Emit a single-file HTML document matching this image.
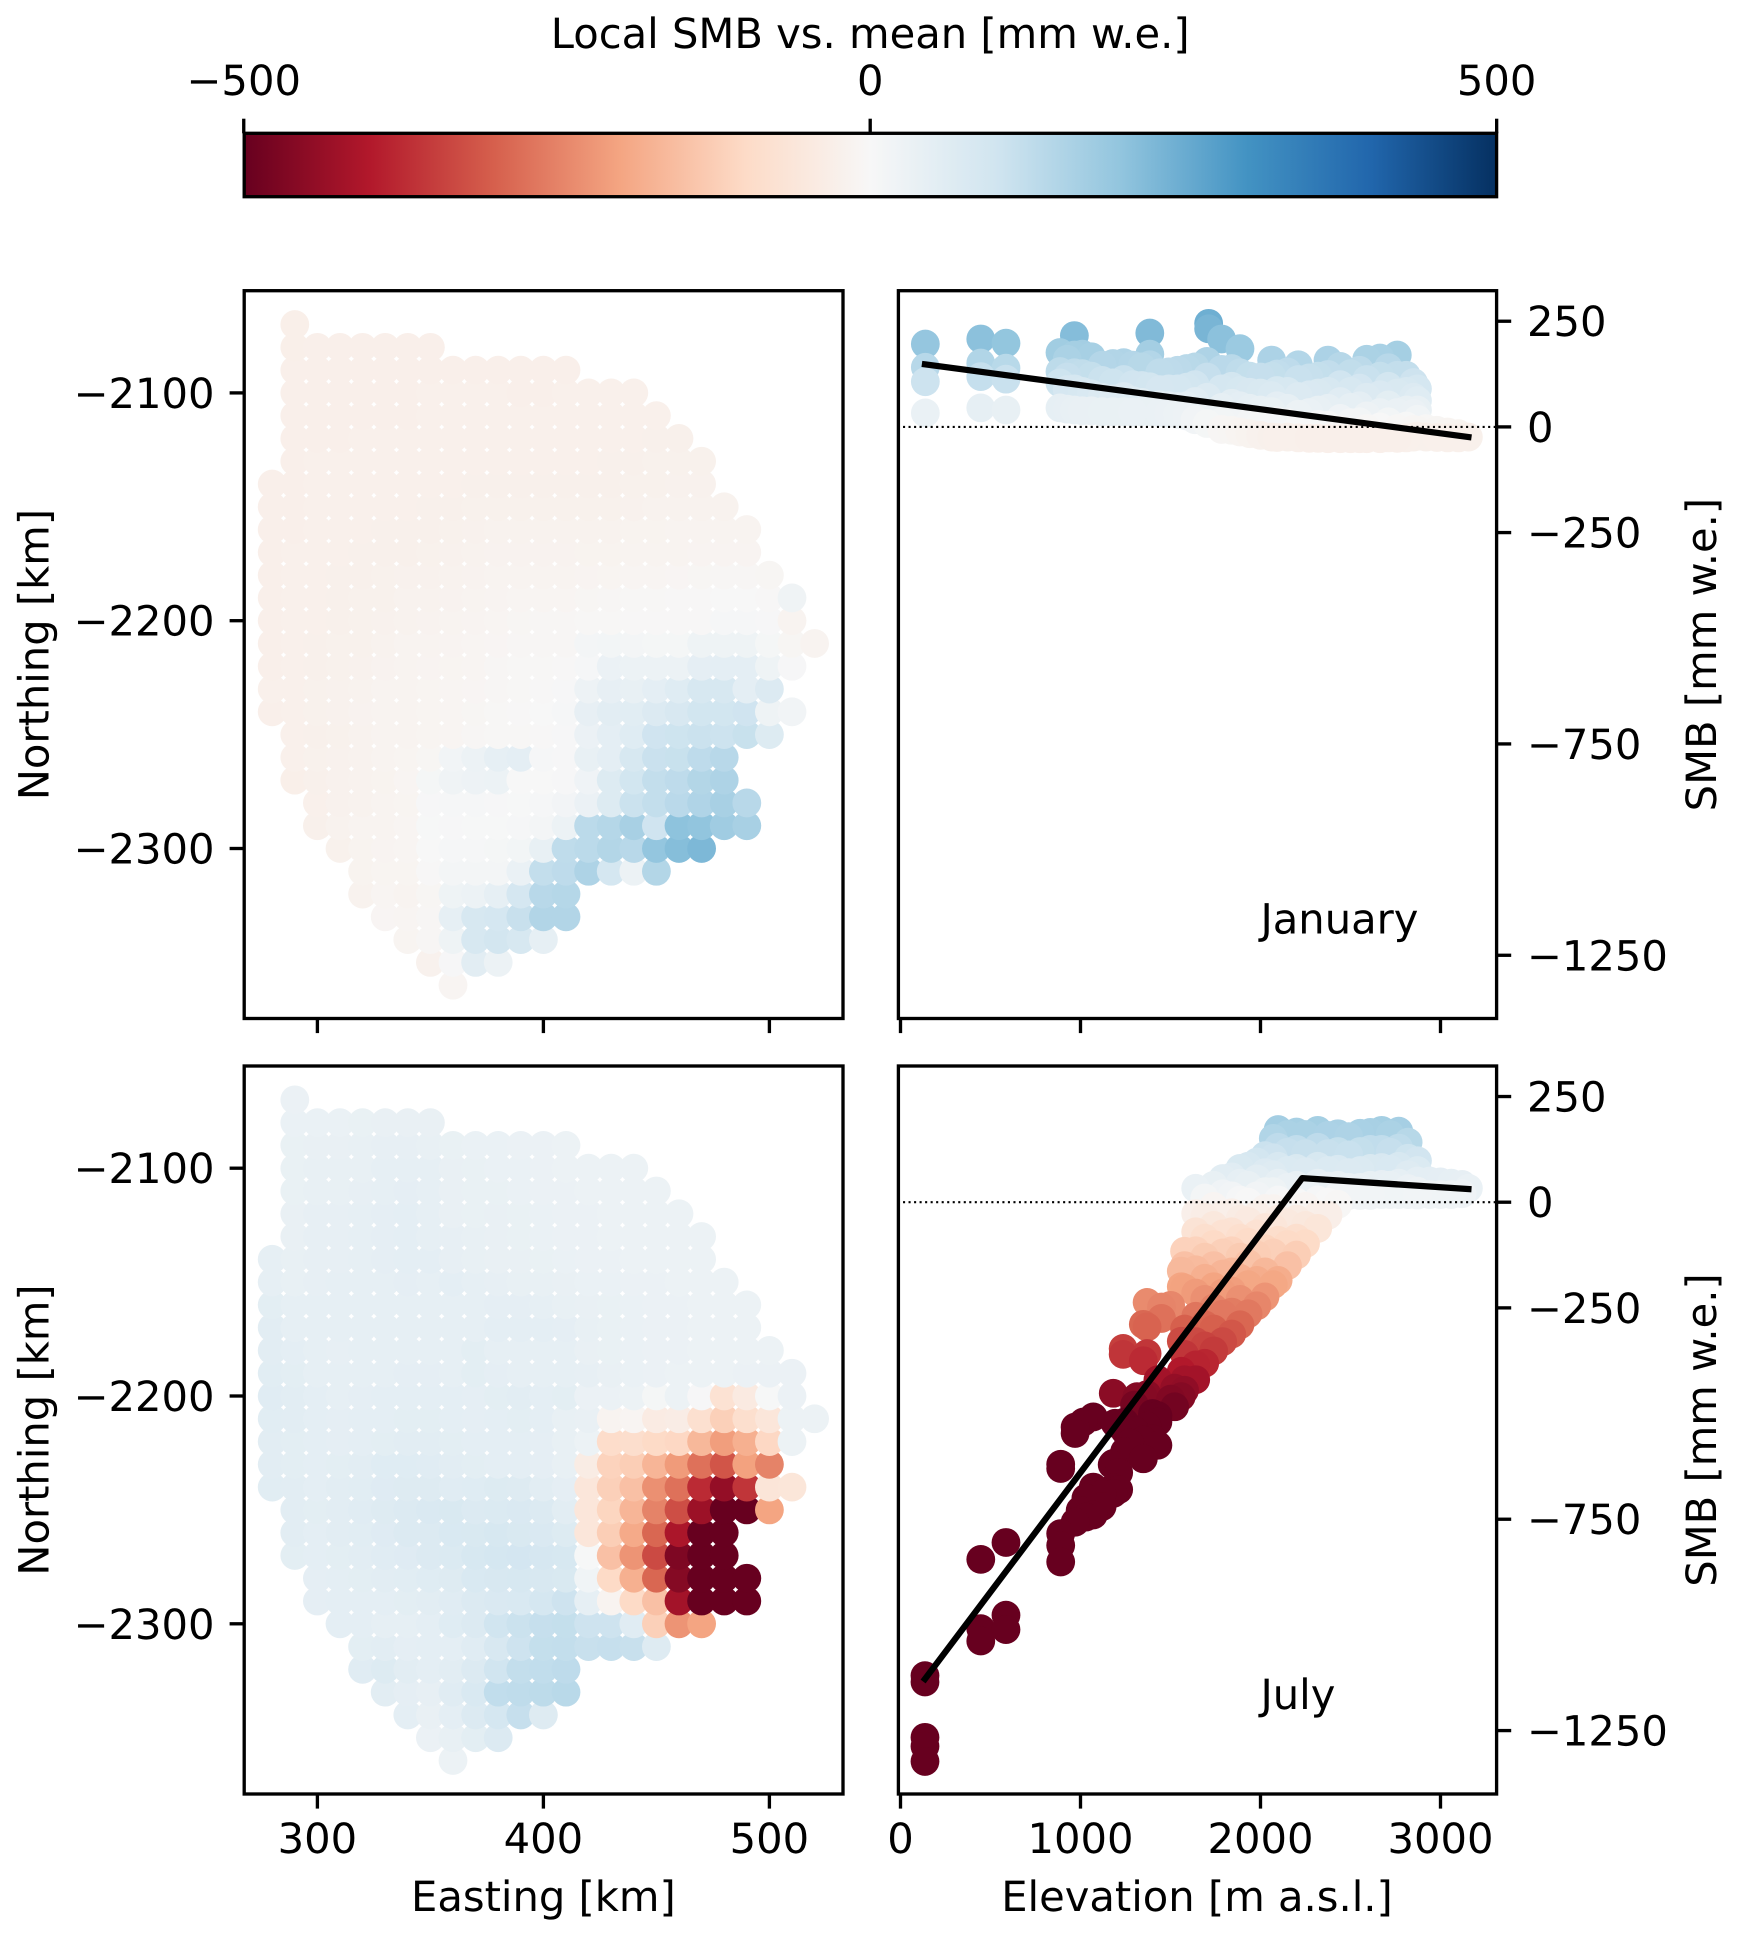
<!DOCTYPE html>
<html lang="en">
<head>
<meta charset="utf-8">
<title>Local SMB maps and elevation profiles</title>
<style>
html,body{margin:0;padding:0;background:#fff;}
svg{display:block;}
text{font-family:"DejaVu Sans","Liberation Sans",sans-serif;font-size:41.67px;fill:#000;text-rendering:geometricPrecision;}
</style>
</head>
<body>
<svg id="figure" xmlns="http://www.w3.org/2000/svg" width="1737" height="1938" viewBox="0 0 1737 1938">
  <rect x="0" y="0" width="1737" height="1938" fill="#fff"/>
  <defs>
    <linearGradient id="rdbu" x1="0" x2="1" y1="0" y2="0"></linearGradient>
    <clipPath id="clip-map-jan"><rect x="244" y="290.7" width="599" height="727.8"/></clipPath>
    <clipPath id="clip-map-jul"><rect x="244" y="1066" width="599" height="728"/></clipPath>
    <clipPath id="clip-prof-jan"><rect x="898.5" y="290.7" width="598.2" height="727.8"/></clipPath>
    <clipPath id="clip-prof-jul"><rect x="898.5" y="1066" width="598.2" height="728"/></clipPath>
  </defs>
  <g id="layer"></g>
</svg>
<script>
// ---------- map data (one entry per row of the 10 km grid) ----------
const mapNorthings = [-2070,-2080,-2090,-2100,-2110,-2120,-2130,-2140,-2150,-2160,-2170,-2180,-2190,-2200,-2210,-2220,-2230,-2240,-2250,-2260,-2270,-2280,-2290,-2300,-2310,-2320,-2330,-2340,-2350,-2360];
const mapFirstEasting = [290,290,290,290,290,290,290,280,280,280,280,280,280,280,280,280,280,280,290,290,290,300,300,310,320,320,330,340,350,360];
const janMapValues = [
[-30],
[-29,-28,-28,-28,-28,-28,-28],
[-28,-28,-28,-28,-28,-28,-27,-27,-27,-27,-27,-27,-28],
[-28,-27,-27,-27,-27,-27,-26,-26,-26,-26,-27,-27,-26,-26,-26,-26],
[-27,-27,-27,-27,-27,-27,-26,-26,-26,-26,-26,-26,-26,-26,-26,-26,-25],
[-27,-27,-27,-26,-26,-26,-26,-26,-25,-25,-25,-26,-26,-25,-25,-25,-24,-24],
[-27,-26,-26,-26,-25,-25,-25,-25,-25,-25,-25,-25,-25,-25,-24,-24,-23,-23,-22],
[-28,-27,-26,-26,-26,-25,-25,-25,-25,-24,-24,-24,-24,-24,-24,-24,-23,-23,-21,-20],
[-28,-27,-26,-26,-25,-25,-25,-24,-24,-23,-22,-22,-22,-22,-22,-22,-20,-19,-18,-18,-18],
[-28,-27,-26,-25,-25,-24,-24,-24,-23,-20,-18,-18,-18,-18,-18,-18,-16,-16,-15,-15,-15,-15],
[-28,-26,-25,-25,-24,-24,-24,-22,-20,-18,-17,-17,-17,-17,-16,-16,-15,-15,-14,-13,-13,-13],
[-28,-26,-25,-24,-24,-23,-21,-20,-18,-17,-15,-15,-14,-14,-13,-12,-11,-10,-9,-8,-7,-7,-8],
[-27,-26,-25,-24,-23,-22,-18,-18,-17,-15,-13,-11,-10,-10,-8,-7,-5,-4,-3,-2,0,-1,-3,22],
[-27,-26,-25,-24,-23,-21,-18,-17,-15,-13,-10,-8,-7,-6,-5,-5,-2,-2,-2,-2,5,5,3,-15],
[-27,-25,-24,-23,-22,-18,-15,-14,-13,-11,-9,-7,-6,-6,10,12,10,8,8,24,24,24,8,-8,-14],
[-27,-25,-24,-22,-20,-17,-14,-13,-12,-10,-7,-5,-4,-3,5,32,30,30,30,48,50,50,24,3],
[-26,-25,-23,-21,-19,-15,-14,-12,-11,-9,-6,-4,-2,3,26,42,40,50,63,84,84,50,70],
[-27,-25,-23,-21,-17,-15,-14,-12,-10,-8,-5,-3,-1,5,42,55,58,72,82,97,97,102,24,16],
[-26,-24,-22,-18,-15,-14,-12,-10,-7,-4,-4,-3,3,32,50,63,102,104,110,106,114,68],
[-26,-23,-21,-18,-15,-12,-8,15,30,45,50,5,3,40,50,84,111,114,130,140],
[-29,-24,-20,-18,-16,-10,8,22,26,30,0,0,3,21,68,97,122,130,148,155],
[-25,-20,-18,-15,-12,3,6,5,3,2,5,14,32,68,110,122,136,152,165,140],
[-24,-18,-15,-14,-10,2,3,2,2,6,10,30,135,144,165,102,205,200,178,165],
[-22,-16,-13,-10,0,6,6,8,12,40,128,135,148,140,197,215,227],
[-16,-12,-12,-3,10,10,10,35,122,130,155,90,30,148],
[-18,-10,-14,-8,24,30,45,90,140,145],
[-9,-10,-6,45,85,90,115,150,150],
[-12,-6,25,85,95,85,45],
[-20,3,55,30],
[-10]
];
const julMapValues = [
[32],
[34,34,34,36,38,38,38],
[36,38,38,40,42,42,40,36,34,34,32,32,30],
[36,40,40,40,44,46,44,38,36,34,34,32,30,30,30,30],
[36,40,40,42,46,48,44,38,36,36,34,32,32,30,30,30,30],
[38,42,42,44,48,50,44,38,36,38,36,34,32,32,30,30,30,30],
[38,42,42,44,48,50,44,42,40,38,36,34,32,32,30,30,30,30,30],
[44,40,42,42,44,48,50,50,42,40,38,38,36,34,32,32,30,30,30,30],
[46,40,42,44,44,46,48,46,50,46,42,40,40,38,34,34,32,32,30,30,30],
[52,44,44,44,44,46,46,46,46,46,48,48,46,40,38,36,34,32,32,30,30,30],
[54,46,44,44,44,44,46,46,46,46,50,50,50,48,40,36,34,32,32,30,30,30],
[56,50,44,42,44,44,46,46,46,52,46,44,46,44,38,36,34,32,32,30,30,30,30],
[58,52,46,44,44,46,48,48,46,52,48,46,44,44,42,38,34,32,28,30,30,32,32,32],
[60,54,50,46,48,50,50,50,50,48,52,54,50,52,32,32,30,8,30,3,-75,-45,2,32],
[58,54,50,48,50,50,52,52,50,48,50,52,50,40,38,-15,-10,-42,-38,-82,-120,-85,-60,30,30],
[56,52,50,48,50,52,54,54,52,50,50,50,48,40,30,-92,-88,-100,-105,-165,-210,-180,-105,30],
[56,52,50,52,56,62,62,60,54,52,50,50,48,40,-40,-115,-125,-170,-215,-275,-315,-205,-250],
[58,54,50,54,58,64,66,66,60,62,68,66,56,48,-60,-120,-150,-230,-275,-375,-440,-360,-65,-62],
[56,52,54,60,66,72,76,80,72,74,76,72,56,-60,-110,-170,-250,-325,-430,-500,-500,-200],
[54,50,54,58,64,70,72,78,80,84,80,76,68,-60,-125,-190,-290,-410,-510,-560],
[52,50,52,54,60,64,70,74,84,90,92,88,85,2,-150,-225,-330,-470,-600,-700],
[48,50,52,54,58,62,66,78,82,84,82,80,18,-100,-180,-290,-460,-600,-700,-800],
[48,50,50,50,52,56,60,70,76,78,90,105,45,-15,-100,-150,-420,-620,-800,-900],
[50,50,46,46,50,62,72,100,110,118,120,105,105,60,-120,-225,-200],
[52,56,48,50,50,60,82,105,120,122,115,118,115,65],
[60,68,56,50,55,72,100,122,125,130],
[56,48,42,60,78,125,128,132,138],
[50,38,50,72,90,118,65],
[32,40,52,70],
[30]
];
// ---------- elevation profile data (SMB values read at each elevation) ----------
const janElevation = [138,446,586,886,926,966,1010,1060,1120,1180,1240,1290,1340,1385,1440,1490,1540,1590,1636,1703,1712,1784,1840,1886,1940,2000,2062,2092,2150,2210,2270,2320,2375,2443,2500,2550,2590,2664,2710,2760,2810,2850,2872,2920,2980,3040,3100,3155];
const janSmb = [
[196,141,107,33],[208,151,119,45],[198,139,113,40],[176,131,104,45],[160,118,88,42],[216,170,128,90,40],[172,126,84,38],[166,120,78,38],[146,110,70,36],[150,104,66,36],[152,112,72,36],[146,100,62,35],[142,98,58,36],[222,172,147,95,50,36],[128,88,52,34],[130,90,50,32],[134,90,48,30],[138,94,50,26],[142,100,60,17],[155,118,70,30,8],[245,232],[208,136,90,46,12,-6],[138,96,56,22,-8],[185,128,86,50,16,-12],[120,82,44,10,-16],[118,80,40,8,-20],[158,120,74,36,4,-24],[125,86,50,14,-25],[130,84,44,10,-24],[147,112,72,30,0,-26],[116,76,34,2,-27],[120,80,40,6,-27],[158,124,84,44,4,-28],[143,100,60,20,-6,-28],[126,84,46,10,-28],[134,92,50,12,-28],[160,112,70,26,-4,-28],[163,120,76,34,0,-28],[140,96,52,12,-26],[170,122,80,34,-4,-27],[122,84,40,2,-26],[105,70,32,-6,-24],[90,62,40,18,-8,-22],[-4,-24],[-8,-25],[-12,-26],[-16,-26],[-24]
];
const julElevation = [136,446,586,890,970,998,1016,1030,1071,1120,1176,1182,1192,1212,1237,1245,1257,1274,1300,1314,1349,1370,1400,1430,1450,1501,1523,1560,1578,1640,1690,1740,1790,1840,1886,1931,1980,2025,2071,2098,2150,2200,2250,2318,2375,2430,2490,2553,2610,2673,2720,2768,2820,2872,2940,3000,3060,3120,3155];
const julSmb = [
[-1120,-1135,-1266,-1287,-1323],[-845,-1009,-1038],[-805,-977,-1011],[-620,-630,-784,-812,-851],[-532,-547,-757],[-729],[-520],[-700,-745],[-508,-674,-740],[-690,-720],[-621],[-452,-618,-676,-689],[-523],[-640,-680],[-346,-360],[-520,-540,-590],[-547],[-570],[-480,-540],[-460],[-289,-375,-460,-563,-607],[-237,-295,-358,-455,-530],[-500,-560],[-420,-505,-520,-575],[-248,-275],[-244,-466],[-440,-484],[-163,-200,-329,-400,-460],[-116,-150,-203,-300,-360,-420,-445],[33,-27,-70,-115,-160,-215,-270,-330,-385,-420],[10,-35,-85,-130,-180,-230,-290,-340,-381],[40,-10,-55,-100,-150,-200,-250,-300,-352],[56,20,-30,-75,-120,-170,-215,-265,-330],[60,15,-25,-70,-115,-165,-210,-260,-312],[80,45,5,-40,-85,-130,-180,-230,-290],[85,40,0,-45,-95,-145,-195,-264],[95,55,15,-30,-75,-125,-185,-245],[110,70,25,-15,-60,-110,-165,-224],[151,105,65,25,-15,-60,-120,-195],[172,130,85,45,5,-40,-90,-185],[160,118,75,35,-5,-50,-100,-150],[166,125,80,40,0,-40,-85,-125],[160,115,72,30,-10,-55,-98],[170,130,85,45,5,-30,-62],[158,115,75,38,0,-31],[162,120,78,40,15,-5],[155,112,70,35,16],[163,120,75,35,16],[165,125,80,40,16],[170,125,82,42,18],[160,118,78,40,18],[168,128,85,45,18],[142,104,65,32,18],[98,75,50,26,17],[50,18],[48,18],[45,18],[42,20],[33]
];
// ---------- fitted lines ----------
const janLineElevation = [136,3155];
const janLineSmb = [148,-24];
const julLineElevation = [136,2232,3155];
const julLineSmb = [-1128,57,31];
// ---------- ticks ----------
const eastingTicks = [300,400,500];
const northingTicks = [-2100,-2200,-2300];
const elevationTicks = [0,1000,2000,3000];
const smbTicks = [250,0,-250,-750,-1250];
const colorbarTicks = [-500,0,500];
const rdbuColors = ["#67001f","#b2182b","#d6604d","#f4a582","#fddbc7","#f7f7f7","#d1e5f0","#92c5de","#4393c3","#2166ac","#053061"];

const SVGNS = "http://www.w3.org/2000/svg";
const layer = document.getElementById("layer");
const ROW_TOPS = {top:290.7, bottom:1066};
const ROW_BOTTOMS = {top:1018.5, bottom:1794};

function mapX(v){ return 317.4 + (v-300)*2.26; }
function mapY(v,row){ return ROW_TOPS[row] + 102.2 + (-2100-v)*2.278; }
function profX(v){ return 900.5 + v*0.18; }
function profY(v,row){ return ROW_TOPS[row] + 136.2 - v*0.4227; }
function cbarX(v){ return 870.2 + v*1.2529; }
function fmt(v){ return String(v).replace("-","\u2212"); }
function hex(c){ return [1,3,5].map(function(i){ return parseInt(c.substr(i,2),16); }); }
function colorOf(v){
  const t = Math.max(0,Math.min(1,(v+500)/1000))*10;
  const i = Math.min(9,Math.floor(t));
  const a = hex(rdbuColors[i]), b = hex(rdbuColors[i+1]), f = t-i;
  return "rgb("+a.map(function(x,k){ return Math.round(x+(b[k]-x)*f); }).join(",")+")";
}
function el(tag,attrs,parent){
  const n = document.createElementNS(SVGNS,tag);
  for(const k in attrs){ n.setAttribute(k,attrs[k]); }
  (parent||layer).appendChild(n);
  return n;
}
function label(str,x,y,anchor,name,rot){
  const t = el("text",{x:x,y:y,"text-anchor":anchor});
  
  
  if(rot){ t.setAttribute("transform","rotate(-90 "+x+" "+y+")"); }
  t.textContent = str;
  return t;
}
function tick(x1,y1,x2,y2,name){
  const l = el("line",{x1:x1,y1:y1,x2:x2,y2:y2,stroke:"#000","stroke-width":3.33});
  
  
  return l;
}
function spine(x,y,w,h,name){
  const r = el("rect",{x:x,y:y,width:w,height:h,fill:"none",stroke:"#000","stroke-width":3.33});
  
  
  return r;
}

// colorbar
const grad = document.getElementById("rdbu");
rdbuColors.forEach(function(c,i){
  const s = document.createElementNS(SVGNS,"stop");
  s.setAttribute("offset",(i*10)+"%");
  s.setAttribute("stop-color",c);
  grad.appendChild(s);
});
const cbarRect = el("rect",{x:244.2,y:133.3,width:1252.4,height:63.4,fill:"url(#rdbu)"});


spine(244.2,133.3,1252.4,63.4,"colorbar-frame");
colorbarTicks.forEach(function(v){
  tick(cbarX(v),133.3,cbarX(v),118.7,"colorbar-tick");
  label(fmt(v),cbarX(v),95,"middle","colorbar-tick-label");
});
label("Local SMB vs. mean [mm w.e.]",870.2,48,"middle","colorbar-title");

// map panels
function drawMap(values,row,clipId,groupName){
  const g = el("g",{"clip-path":"url(#"+clipId+")"});
  
  
  for(let r=mapNorthings.length-1;r>=0;r--){
    values[r].forEach(function(v,i){
      const c = el("circle",{cx:mapX(mapFirstEasting[r]+i*10),cy:mapY(mapNorthings[r],row),r:14.4,fill:colorOf(v)},g);
      
      
    });
  }
  spine(244.2,ROW_TOPS[row],598.8,ROW_BOTTOMS[row]-ROW_TOPS[row],groupName+"-frame");
  northingTicks.forEach(function(v){
    tick(244.2,mapY(v,row),229.6,mapY(v,row),"northing-tick");
    label(fmt(v),214.5,mapY(v,row)+15,"end","northing-tick-label");
  });
  eastingTicks.forEach(function(v){
    tick(mapX(v),ROW_BOTTOMS[row],mapX(v),ROW_BOTTOMS[row]+14.6,"easting-tick");
    if(row==="bottom"){ label(String(v),mapX(v),1853,"middle","easting-tick-label"); }
  });
  label("Northing [km]",48.5,(ROW_TOPS[row]+ROW_BOTTOMS[row])/2,"middle","northing-axis-title",true);
}
drawMap(janMapValues,"top","clip-map-jan","january-map");
drawMap(julMapValues,"bottom","clip-map-jul","july-map");
label("Easting [km]",543.4,1911,"middle","easting-axis-title");

// profile panels
function drawProfile(elev,smb,lineE,lineS,row,clipId,groupName,monthName,monthKey){
  const g = el("g",{"clip-path":"url(#"+clipId+")"});
  
  
  const pts = [];
  elev.forEach(function(e,i){ smb[i].forEach(function(s){ pts.push([e,s]); }); });
  pts.sort(function(a,b){ return b[1]-a[1]; });
  pts.forEach(function(p){
    const c = el("circle",{cx:profX(p[0]),cy:profY(p[1],row),r:14.4,fill:colorOf(p[1])},g);
    
    
  });
  const zero = el("line",{x1:profX(14),x2:1496.6,y1:profY(0,row),y2:profY(0,row),stroke:"#000","stroke-width":2.08,"stroke-dasharray":"2.08 3.44"},g);
  
  
  const fit = el("polyline",{points:lineE.map(function(e,i){ return profX(e)+","+profY(lineS[i],row); }).join(" "),fill:"none",stroke:"#000","stroke-width":6.25,"stroke-linecap":"square","stroke-linejoin":"round"},g);
  
  
  spine(898.4,ROW_TOPS[row],598.2,ROW_BOTTOMS[row]-ROW_TOPS[row],groupName+"-frame");
  smbTicks.forEach(function(v){
    tick(1496.6,profY(v,row),1511.2,profY(v,row),"smb-tick");
    label(fmt(v),1527,profY(v,row)+15,"start","smb-tick-label");
  });
  elevationTicks.forEach(function(v){
    tick(profX(v),ROW_BOTTOMS[row],profX(v),ROW_BOTTOMS[row]+14.6,"elevation-tick");
    if(row==="bottom"){ label(String(v),profX(v),1853,"middle","elevation-tick-label"); }
  });
  label("SMB [mm w.e.]",1716,(ROW_TOPS[row]+ROW_BOTTOMS[row])/2,"middle","smb-axis-title",true);
  label(monthName,profX(2000),ROW_TOPS[row]+643,"start",monthKey+"-label");
}
drawProfile(janElevation,janSmb,janLineElevation,janLineSmb,"top","clip-prof-jan","january-profile","January","january");
drawProfile(julElevation,julSmb,julLineElevation,julLineSmb,"bottom","clip-prof-jul","july-profile","July","july");
label("Elevation [m a.s.l.]",1197,1911,"middle","elevation-axis-title");
</script>
</body>
</html>
